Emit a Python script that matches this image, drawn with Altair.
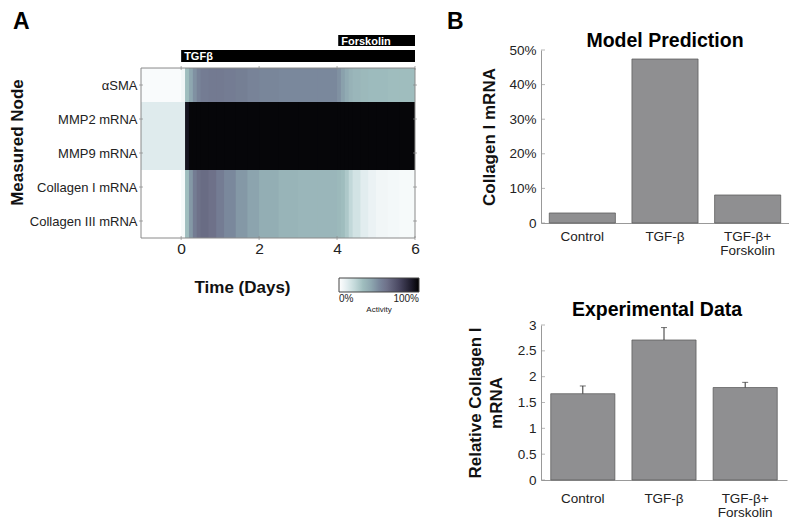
import altair as alt
import pandas as pd

# ---------------- Panel A data ----------------
rows = ["αSMA", "MMP2 mRNA", "MMP9 mRNA", "Collagen I mRNA", "Collagen III mRNA"]
t_edges = [-1.03, 0.0, 0.1, 0.2, 0.3, 0.4, 0.5, 0.7, 0.9, 1.1, 1.4, 1.7, 2.0, 2.5,
           3.0, 3.5, 4.0, 4.1, 4.2, 4.3, 4.4, 4.6, 4.8, 5.0, 5.3, 5.6, 6.0]
asma = [0.02, 0.05, 0.30, 0.40, 0.47, 0.52, 0.55, 0.56, 0.56, 0.55, 0.54, 0.52, 0.51,
        0.50, 0.50, 0.50, 0.47, 0.42, 0.38, 0.35, 0.33, 0.32, 0.31, 0.31, 0.30, 0.30]
mmp2 = [0.11, 0.11, 0.93, 0.98, 0.98, 0.98, 0.98, 0.98, 0.98, 0.98, 0.98, 0.98, 0.98,
        0.98, 0.98, 0.98, 0.98, 0.98, 0.98, 0.98, 0.98, 0.98, 0.98, 0.98, 0.98, 0.98]
mmp9 = [0.11, 0.11, 0.93, 0.98, 0.98, 0.98, 0.98, 0.98, 0.98, 0.98, 0.98, 0.98, 0.98,
        0.98, 0.98, 0.98, 0.98, 0.98, 0.98, 0.98, 0.98, 0.98, 0.98, 0.98, 0.98, 0.98]
col1 = [0.00, 0.03, 0.30, 0.45, 0.55, 0.60, 0.62, 0.60, 0.55, 0.50, 0.45, 0.41, 0.37,
        0.34, 0.33, 0.33, 0.32, 0.30, 0.26, 0.20, 0.15, 0.10, 0.07, 0.05, 0.04, 0.03]
col3 = [0.00, 0.03, 0.30, 0.45, 0.55, 0.60, 0.62, 0.60, 0.55, 0.50, 0.45, 0.41, 0.37,
        0.34, 0.33, 0.33, 0.32, 0.30, 0.26, 0.20, 0.15, 0.10, 0.07, 0.05, 0.04, 0.03]
series = [asma, mmp2, mmp9, col1, col3]
time_ticks = [0, 2, 4, 6]

treat_names = ["TGFβ", "Forskolin"]
treat_start = [0.0, 4.03]
treat_end = [6.0, 6.0]

cmap_stops = [0.0, 0.10, 0.20, 0.30, 0.40, 0.50, 0.60, 0.75, 0.90, 1.0]
cmap_colors = ["#ffffff", "#e2edef", "#c2d8d9", "#9fbdbe", "#8ea7b0", "#7a889c",
               "#6e7189", "#4a4862", "#1e1c2c", "#000000"]

# ---------------- Panel B data ----------------
conditions = ["Control", "TGF-β", "TGF-β+ Forskolin"]
model_pred = [2.9, 47.4, 8.1]
model_ticks = [0, 10, 20, 30, 40, 50]
exp_mean = [1.67, 2.71, 1.79]
exp_err = [0.15, 0.24, 0.10]
exp_ticks = [0, 0.5, 1, 1.5, 2, 2.5, 3]

FONT = "Liberation Sans"
FRAME = "#8a8a8a"

# ---------------- Build panel A ----------------
n_rows = len(rows)
t_start, t_end = t_edges[0], t_edges[-1]
recs = []
for k, (r, vals) in enumerate(zip(rows, series)):
    pos = n_rows - 1 - k          # top row drawn highest
    for i, v in enumerate(vals):
        # each cell is painted from its start to the row end (later cells paint
        # over it) and from its row top down to the bottom (later rows paint
        # over it) -> seamless heatmap
        recs.append({"row": r, "ybot": 0, "ytop": pos + 1,
                     "t0": t_edges[i], "tfill": t_end, "v": v})
heat_df = pd.DataFrame(recs)

cscale = alt.Scale(domain=cmap_stops, range=cmap_colors, interpolate="rgb")
xscale = alt.Scale(domain=[t_start, t_end], nice=False, zero=False)
yscale = alt.Scale(domain=[0, n_rows + 0.53], nice=False, zero=False)

label_arr = "[" + ",".join("'" + r + "'" for r in reversed(rows)) + "]"
row_centers = [k + 0.5 for k in range(n_rows)]

xaxis_a = alt.Axis(values=time_ticks, title="Time (Days)", grid=False,
                   ticks=False, labelFontSize=15.5, labelPadding=3,
                   domain=False, labelFlush=False,
                   titleFontSize=17, titleFontWeight="bold",
                   titleX=101, titleY=54, titleAlign="center",
                   titleBaseline="alphabetic")
yaxis_a = alt.Axis(values=row_centers,
                   labelExpr=label_arr + "[floor(datum.value)]",
                   title="Measured Node", ticks=False, labelFontSize=13,
                   labelPadding=4, domain=False, grid=False,
                   titleFontSize=17, titleFontWeight="bold", titlePadding=3,
                   titleY=92)

heat = alt.Chart(heat_df).mark_rect().encode(
    x=alt.X("t0:Q", scale=xscale, axis=xaxis_a),
    x2="tfill:Q",
    y=alt.Y("ybot:Q", scale=yscale, axis=yaxis_a),
    y2="ytop:Q",
    color=alt.Color("v:Q", scale=cscale,
                    legend=alt.Legend(type="gradient", orient="none", legendX=198,
                                      legendY=228, direction="horizontal",
                                      gradientLength=80, gradientThickness=14,
                                      values=[0, 1], format=".0%", title="Activity",
                                      titleOrient="bottom", titleFontSize=8,
                                      titleFontWeight="normal", titleAnchor="middle",
                                      labelFontSize=10, gradientStrokeColor="#444",
                                      gradientStrokeWidth=1, padding=0,
                                      titlePadding=2, labelOffset=2,
                                      titleColor="#222", labelColor="#222")),
)

frame_df = pd.DataFrame({"t0": [t_start], "t1": [t_end], "y0": [0], "y1": [n_rows]})
frame = alt.Chart(frame_df).mark_rect(fillOpacity=0, stroke=FRAME, strokeWidth=1).encode(
    x=alt.X("t0:Q", scale=xscale, axis=xaxis_a), x2="t1:Q",
    y=alt.Y("y0:Q", scale=yscale, axis=yaxis_a), y2="y1:Q")

# inward tick marks on the heatmap frame (left/right at rows, bottom/top at days)
side_df = pd.DataFrame({"xs": [t_start] * n_rows + [t_end] * n_rows,
                        "yc": row_centers * 2,
                        "off": [2] * n_rows + [-2] * n_rows})
tick_lr = alt.Chart(side_df).mark_tick(orient="horizontal", size=4, thickness=1,
                                       color=FRAME).encode(
    x=alt.X("xs:Q", scale=xscale, axis=xaxis_a),
    y=alt.Y("yc:Q", scale=yscale, axis=yaxis_a),
    xOffset=alt.XOffset("off:Q", scale=None))
tb_df = pd.DataFrame({"tc": time_ticks * 2,
                      "ys": [0] * len(time_ticks) + [n_rows] * len(time_ticks),
                      "off": [-2] * len(time_ticks) + [2] * len(time_ticks)})
tick_tb = alt.Chart(tb_df).mark_tick(orient="vertical", size=4, thickness=1,
                                     color=FRAME).encode(
    x=alt.X("tc:Q", scale=xscale, axis=xaxis_a),
    y=alt.Y("ys:Q", scale=yscale, axis=yaxis_a),
    yOffset=alt.YOffset("off:Q", scale=None))

treat_df = pd.DataFrame({"name": treat_names, "t0": treat_start, "t1": treat_end})
tgf = alt.Chart(treat_df).transform_filter(alt.datum.name == "TGFβ")
fsk = alt.Chart(treat_df).transform_filter(alt.datum.name == "Forskolin")
tgf_bar = tgf.mark_rect(color="black").encode(
    x=alt.X("t0:Q", scale=xscale, axis=xaxis_a), x2="t1:Q",
    y=alt.value(0), y2=alt.value(12))
fsk_bar = fsk.mark_rect(color="black").encode(
    x=alt.X("t0:Q", scale=xscale, axis=xaxis_a), x2="t1:Q",
    y=alt.value(-15), y2=alt.value(-4))
tgf_txt = tgf.mark_text(color="white", fontWeight="bold", fontSize=11, align="left",
                        baseline="alphabetic", dx=3).encode(
    x=alt.X("t0:Q", scale=xscale, axis=xaxis_a), y=alt.value(10), text="name:N")
fsk_txt = fsk.mark_text(color="white", fontWeight="bold", fontSize=11, align="left",
                        baseline="alphabetic", dx=3).encode(
    x=alt.X("t0:Q", scale=xscale, axis=xaxis_a), y=alt.value(-5), text="name:N")

letter_a = alt.Chart(pd.DataFrame({"l": ["A"]})).mark_text(
    fontSize=23, fontWeight="bold", align="left", baseline="alphabetic").encode(
    x=alt.value(-128), y=alt.value(-21), text="l:N")

panel_a = alt.layer(heat, frame, tick_lr, tick_tb,
                    tgf_bar, fsk_bar, tgf_txt, fsk_txt, letter_a).properties(
    width=274, height=188, view=alt.ViewBackground(strokeOpacity=0))

# ---------------- Build panel B ----------------
split_expr = "datum.label == 'TGF-β+ Forskolin' ? ['TGF-β+', 'Forskolin'] : datum.label"

model_df = pd.DataFrame({"cond": conditions, "pred": model_pred})
yscale_b1 = alt.Scale(domain=[0, 50], nice=False)
yaxis_b1 = alt.Axis(values=model_ticks, grid=False,
                    labelExpr="datum.value == 0 ? '0' : datum.value + '%'",
                    labelFontSize=13.5, ticks=False,
                    domainColor="#999", labelPadding=5, labelOverlap=False,
                    title="Collagen I mRNA", titleFontSize=17,
                    titleFontWeight="bold", titlePadding=10)
b1_bars = alt.Chart(model_df).mark_bar(color="#8f8f91", stroke="#555", strokeWidth=0.7).encode(
    x=alt.X("cond:N", sort=conditions,
            scale=alt.Scale(paddingInner=0.2, paddingOuter=0.1),
            axis=alt.Axis(title=None, labelAngle=0, labelExpr=split_expr, ticks=False,
                          labelFontSize=13.5, labelPadding=6, labelLineHeight=14,
                          domainColor="#999")),
    y=alt.Y("pred:Q", scale=yscale_b1, axis=yaxis_b1),
)
b1_ticks = alt.Chart(pd.DataFrame({"tv": model_ticks})).mark_tick(
    orient="horizontal", size=4, thickness=1, color="#999", xOffset=2).encode(
    x=alt.value(0), y=alt.Y("tv:Q", scale=yscale_b1, axis=yaxis_b1))
letter_b = alt.Chart(pd.DataFrame({"l": ["B"]})).mark_text(
    fontSize=23, fontWeight="bold", align="left", baseline="alphabetic").encode(
    x=alt.value(-94), y=alt.value(-21), text="l:N")
title_b1 = alt.Chart(pd.DataFrame({"l": ["Model Prediction"]})).mark_text(
    fontSize=19.5, fontWeight="bold", align="center", baseline="alphabetic").encode(
    x=alt.value(124), y=alt.value(-3), text="l:N")

b1 = alt.layer(b1_bars, b1_ticks, letter_b, title_b1).properties(
    width=248, height=173, view=alt.ViewBackground(strokeOpacity=0))

exp_df = pd.DataFrame({"cond": conditions, "mean": exp_mean, "err": exp_err})
yscale_b2 = alt.Scale(domain=[0, 3], nice=False)
yaxis_b2 = alt.Axis(values=exp_ticks,
                    labelExpr="format(datum.value, '.1~f')", grid=False,
                    labelFontSize=13.5, ticks=False,
                    domainColor="#999", labelPadding=5, labelOverlap=False,
                    title=["Relative Collagen I", "mRNA"], titleFontSize=17,
                    titleFontWeight="bold", titlePadding=12, titleLineHeight=21)
b2_base = alt.Chart(exp_df).transform_calculate(hi="datum.mean + datum.err").encode(
    x=alt.X("cond:N", sort=conditions,
            scale=alt.Scale(paddingInner=0.21, paddingOuter=0.12),
            axis=alt.Axis(title=None, labelAngle=0, labelExpr=split_expr, ticks=False,
                          labelFontSize=13.5, labelPadding=11, labelLineHeight=14,
                          domainColor="#999")))
b2_bars = b2_base.mark_bar(color="#8f8f91", stroke="#555", strokeWidth=0.7).encode(
    y=alt.Y("mean:Q", scale=yscale_b2, axis=yaxis_b2))
b2_err = b2_base.mark_rule(color="#333", strokeWidth=1).encode(
    y=alt.Y("mean:Q", scale=yscale_b2, axis=yaxis_b2), y2="hi:Q")
b2_cap = b2_base.mark_tick(color="#333", size=6, thickness=1).encode(
    y=alt.Y("hi:Q", scale=yscale_b2, axis=yaxis_b2))
b2_ticks = alt.Chart(pd.DataFrame({"tv": exp_ticks})).mark_tick(
    orient="horizontal", size=4, thickness=1, color="#999", xOffset=2).encode(
    x=alt.value(0), y=alt.Y("tv:Q", scale=yscale_b2, axis=yaxis_b2))
title_b2 = alt.Chart(pd.DataFrame({"l": ["Experimental Data"]})).mark_text(
    fontSize=19.5, fontWeight="bold", align="center", baseline="alphabetic").encode(
    x=alt.value(116), y=alt.value(-9), text="l:N")

b2 = alt.layer(b2_bars, b2_err, b2_cap, b2_ticks, title_b2).properties(
    width=246, height=155, view=alt.ViewBackground(strokeOpacity=0))

panel_b = alt.vconcat(b1, b2, spacing=43)

chart = alt.hconcat(panel_a, panel_b, spacing=27).properties(
    padding={"left": 0, "top": 3, "right": 0, "bottom": 0}
).configure(font=FONT).configure_axis(
    labelColor="#222", titleColor="#111", labelFont=FONT, titleFont=FONT
).configure_legend(labelFont=FONT, titleFont=FONT)

chart.save("out.html", embed_options={"renderer": "svg", "actions": False})
